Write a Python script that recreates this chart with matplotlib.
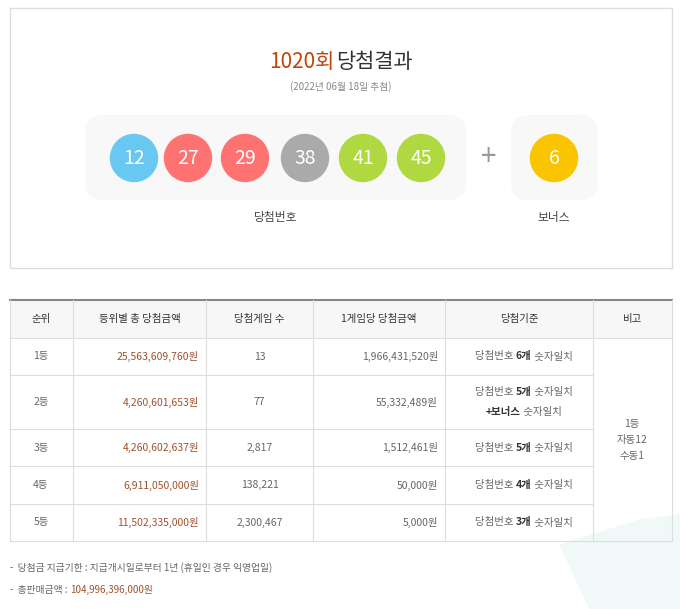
import matplotlib

matplotlib.use("Agg")
import matplotlib.pyplot as plt
from matplotlib.patches import Circle, FancyBboxPatch, Rectangle, Polygon

plt.rcParams["font.family"] = "Noto Sans CJK KR"

DRAW_NO = 1020
DRAW_DATE = "(2022년 06월 18일 추첨)"
NUMBERS = [12, 27, 29, 38, 41, 45]
BONUS = 6

HEADERS = ["순위", "등위별 총 당첨금액", "당첨게임 수", "1게임당 당첨금액", "당첨기준", "비고"]
RANKS = ["1등", "2등", "3등", "4등", "5등"]
TOTAL_PRIZE = ["25,563,609,760원", "4,260,601,653원", "4,260,602,637원",
               "6,911,050,000원", "11,502,335,000원"]
WINNERS = ["13", "77", "2,817", "138,221", "2,300,467"]
PER_GAME = ["1,966,431,520원", "55,332,489원", "1,512,461원", "50,000원", "5,000원"]
MATCH_COUNT = ["6개", "5개", "5개", "4개", "3개"]
NOTE = "1등\n자동12\n수동1"
TOTAL_SALES = "104,996,396,000원"


def ball_color(n):
    if n <= 10:
        return "#fbc400"
    if n <= 20:
        return "#69c8f2"
    if n <= 30:
        return "#ff7272"
    if n <= 40:
        return "#aaaaaa"
    return "#b0d840"


fig = plt.figure(figsize=(6.8, 6.09), dpi=100)
ax = fig.add_axes([0, 0, 1, 1])
ax.set_xlim(0, 680)
ax.set_ylim(609, 0)
ax.axis("off")

# faint background decoration
ax.add_patch(Polygon([[590, 609], [560, 545], [640, 520], [680, 515], [680, 609]],
                     closed=True, color="#f1f8f8", zorder=0))

# result box
ax.add_patch(Rectangle((10, 8), 662, 260, fill=False, ec="#dddddd", lw=1))
ax.text(334, 62, f"{DRAW_NO}회", color="#c1440e", fontsize=15, fontweight="medium",
        ha="right", va="center")
ax.text(336, 62, "당첨결과", color="#333333", fontsize=15, ha="left", va="center")
ax.text(341, 87, DRAW_DATE, color="#888888", fontsize=7, ha="center", va="center")

ax.add_patch(FancyBboxPatch((85, 115), 381, 85, boxstyle="round,pad=0,rounding_size=18",
                            fc="#f8f8f8", ec="none"))
ax.add_patch(FancyBboxPatch((511, 115), 87, 85, boxstyle="round,pad=0,rounding_size=18",
                            fc="#f8f8f8", ec="none"))
xs = [134, 188, 245, 305, 363, 421]
for x, n in zip(xs, NUMBERS):
    ax.add_patch(Circle((x, 158), 23.5, color=ball_color(n)))
    ax.text(x, 158, str(n), color="white", fontsize=14, ha="center", va="center")
ax.text(489, 157, "+", color="#999999", fontsize=20, ha="center", va="center")
ax.add_patch(Circle((554, 158), 23.5, color=ball_color(BONUS)))
ax.text(554, 158, str(BONUS), color="white", fontsize=14, ha="center", va="center")
ax.text(276, 218, "당첨번호", color="#444444", fontsize=8.5, ha="center", va="center")
ax.text(554, 218, "보너스", color="#444444", fontsize=8.5, ha="center", va="center")

# table
cols = [10, 73, 206, 313, 445, 593, 672]
rows = [300, 338, 375, 429, 466, 504, 541]
ax.add_patch(Rectangle((10, 300), 662, 38, fc="#f7f7f7", ec="none"))
ax.plot([10, 672], [300, 300], color="#888888", lw=1.5)
for y in rows[1:]:
    ax.plot([10, 593 if y not in (338, 541) else 672], [y, y], color="#dddddd", lw=0.8)
for x in cols:
    ax.plot([x, x], [300, 541], color="#dddddd", lw=0.8)
for i, h in enumerate(HEADERS):
    ax.text((cols[i] + cols[i + 1]) / 2, 319, h, color="#333333", fontsize=7.5,
            ha="center", va="center")
for r in range(5):
    yc = (rows[r + 1] + rows[r + 2]) / 2
    ax.text(41, yc, RANKS[r], color="#666666", fontsize=7.5, ha="center", va="center")
    ax.text(cols[2] - 7, yc, TOTAL_PRIZE[r], color="#a0522d", fontsize=7.5,
            ha="right", va="center")
    ax.text((cols[2] + cols[3]) / 2, yc, WINNERS[r], color="#666666", fontsize=7.5,
            ha="center", va="center")
    ax.text(cols[4] - 7, yc, PER_GAME[r], color="#666666", fontsize=7.5,
            ha="right", va="center")
    ty = yc - 10 if r == 1 else yc
    t1 = ax.text(475, ty, "당첨번호 ", color="#666666", fontsize=7.5, ha="left", va="center")
    t2 = ax.annotate(MATCH_COUNT[r], xycoords=t1, xy=(1, 0.5), va="center", fontsize=7.5,
                     color="#333333", fontweight="bold")
    ax.annotate(" 숫자일치", xycoords=t2, xy=(1, 0.5), va="center", fontsize=7.5,
                color="#666666")
    if r == 1:
        t3 = ax.text(486, yc + 10, "+보너스", color="#333333", fontsize=7.5,
                     fontweight="bold", ha="left", va="center")
        ax.annotate(" 숫자일치", xycoords=t3, xy=(1, 0.5), va="center", fontsize=7.5,
                    color="#666666")
ax.text(632, 440, NOTE, color="#666666", fontsize=7.5, ha="center", va="center",
        linespacing=1.7)

ax.text(10, 568, "-  당첨금 지급기한 : 지급개시일로부터 1년 (휴일인 경우 익영업일)",
        color="#666666", fontsize=7, ha="left", va="center")
t4 = ax.text(10, 590, "-  총판매금액 : ", color="#666666", fontsize=7, ha="left", va="center")
ax.annotate(TOTAL_SALES, xycoords=t4, xy=(1, 0.5), va="center", fontsize=7,
            color="#a0522d")

fig.savefig("out.png", dpi=100)
